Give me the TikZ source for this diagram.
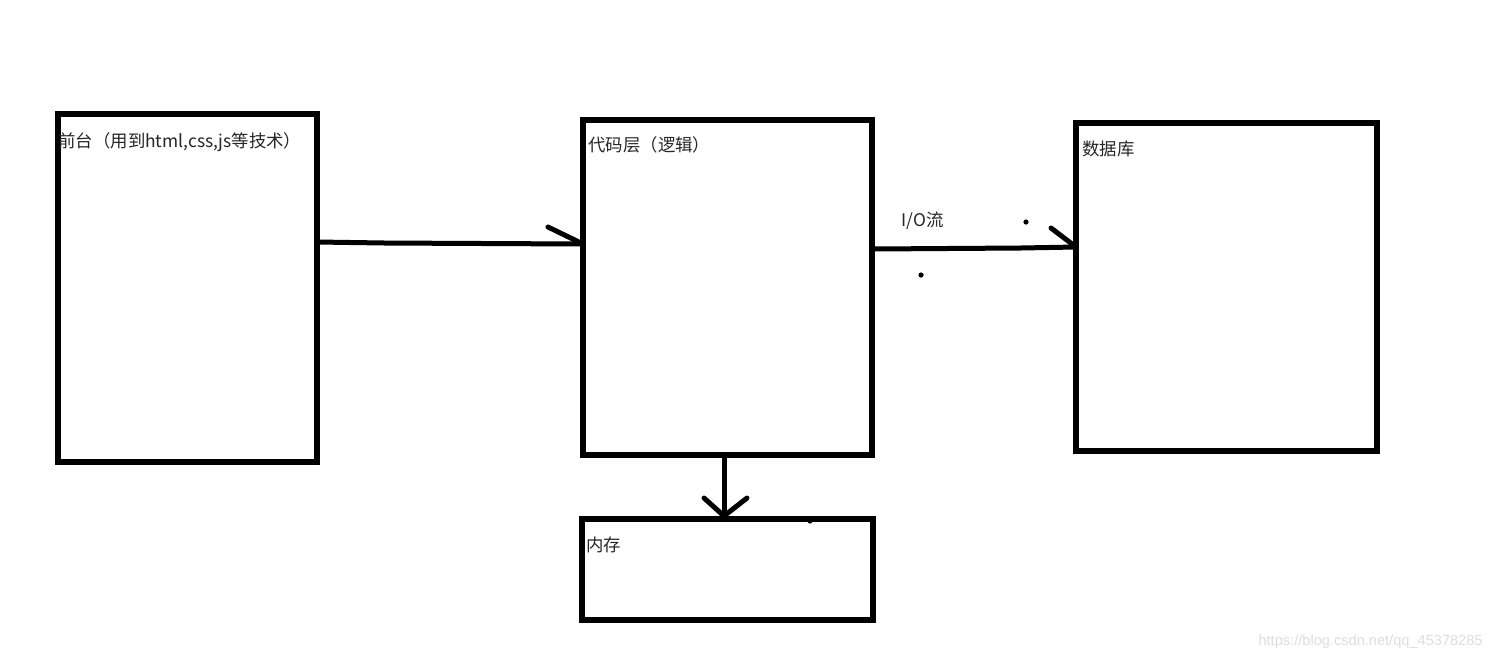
\documentclass[tikz,border=0pt]{standalone}
\usepackage{fontspec}
\setmainfont{Liberation Sans}
\newfontfamily\cjk{Noto Sans CJK SC}
\begin{document}
\begin{tikzpicture}[x=0.5pt,y=-0.5pt,
  box/.style={draw=black,line width=2.7pt,inner sep=0pt},
  stroke/.style={line width=2.5pt,line cap=round},
  lbl/.style={anchor=west,inner sep=0pt,font=\cjk\fontsize{8.7pt}{9.5pt}\selectfont,text=black!85},
  dotm/.style={circle,fill=black,inner sep=0pt,minimum size=2.6pt}]
\useasboundingbox[fill=white] (0,0) rectangle (1493,661);
% boxes
\draw[box] (58,114) rectangle (317,462);
\draw[box] (583,120) rectangle (872,455);
\draw[box] (1076,123) rectangle (1377,451);
\draw[box] (582,519) rectangle (873,620);
% named coordinates on the boxes
\coordinate (qtR) at (317,242);
\coordinate (dmL) at (583,244);
\coordinate (dmR) at (872,249);
\coordinate (dbL) at (1076,247);
\coordinate (dmB) at (724,455);
\coordinate (ncT) at (724,516);
% labels
\node[lbl] (t1) at (58,142) {前台（用到html,css,js等技术）};
\node[lbl] (t2) at (588,145) {代码层（逻辑）};
\node[lbl] (t3) at (1082,149) {数据库};
\node[lbl] (t4) at (586,545) {内存};
\node[lbl] (io) at (901,221) {I/O流};
% arrow 1
\draw[stroke] (qtR) -- (385,243) -- (dmL);
\coordinate (a1b) at (548,227);
\draw[stroke] (a1b) -- (dmL);
% arrow 2
\draw[stroke] (dmR) -- (1020,248) -- (dbL);
\coordinate (a2b) at (1051,228);
\draw[stroke] (a2b) -- (dbL);
% arrow 3
\draw[stroke] (dmB) -- (ncT);
\coordinate (a3l) at (704,498);
\coordinate (a3r) at (747,498);
\draw[stroke] (a3l) -- (ncT) -- (a3r);
% stray dots
\node[dotm] (d1) at (1026,222) {};
\node[dotm] (d2) at (921,275) {};
\node[dotm] (d3) at (810,521) {};
% watermark
\node[anchor=east,inner sep=0pt,text=black!13,font=\fontsize{7.3pt}{8pt}\selectfont] (wm) at (1483,642) {https://blog.csdn.net/qq\_45378285};
\end{tikzpicture}
\end{document}
